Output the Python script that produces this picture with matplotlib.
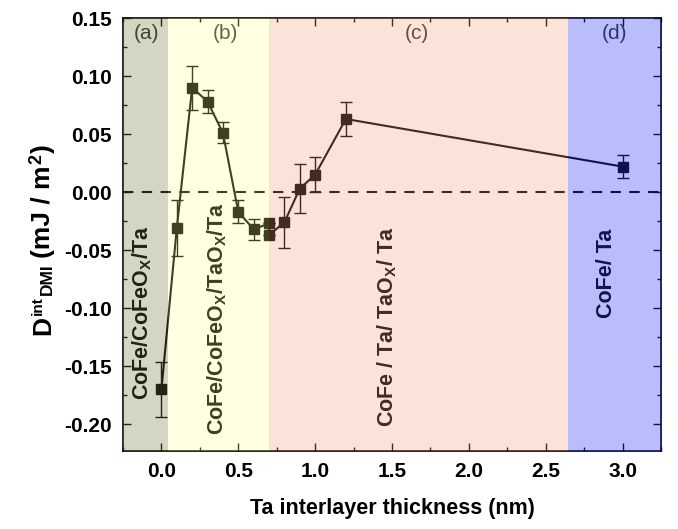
import matplotlib
matplotlib.use('Agg')
import matplotlib.pyplot as plt
from matplotlib.ticker import MultipleLocator
from matplotlib.transforms import IdentityTransform

plt.rcParams['font.family'] = 'Liberation Sans'
plt.rcParams['mathtext.fontset'] = 'custom'
plt.rcParams['mathtext.rm'] = 'Liberation Sans:bold'
plt.rcParams['mathtext.bf'] = 'Liberation Sans:bold'

# Ta interlayer thickness (nm) and interfacial DMI (mJ/m^2)
thickness = [0.0, 0.1, 0.2, 0.3, 0.4, 0.5, 0.6, 0.7, 0.7, 0.8, 0.9, 1.0, 1.2, 3.0]
dmi = [-0.170, -0.031, 0.090, 0.078, 0.051, -0.017, -0.032, -0.027, -0.037,
       -0.026, 0.003, 0.015, 0.063, 0.022]
dmi_err = [0.024, 0.024, 0.019, 0.010, 0.009, 0.010, 0.009, 0.0, 0.0,
           0.022, 0.021, 0.015, 0.015, 0.010]

# shaded regions
region_edges = [(-0.25, 0.045), (0.045, 0.70), (0.70, 2.645), (2.645, 3.25)]
region_colors = ['#75753a', '#ffff8a', '#f59d7a', '#2d3cf0']
region_alpha = [0.30, 0.25, 0.28, 0.33]
region_tags = ['(a)', '(b)', '(c)', '(d)']
tag_x = [-0.096, 0.414, 1.66, 2.95]
stack_labels = [r'CoFe/CoFeO$_{\bf X}$/Ta',
                r'CoFe/CoFeO$_{\bf X}$/TaO$_{\bf X}$/Ta',
                r'CoFe / Ta/ TaO$_{\bf X}$/ Ta',
                r'CoFe/ Ta']
stack_x = [-0.122, 0.361, 1.472, 2.897]
stack_y = [-0.1036, -0.1088, -0.116, -0.0696]

W, H = 678, 529
fig = plt.figure(figsize=(W / 100, H / 100), dpi=100)
ax = fig.add_axes([123 / W, 1 - 451 / H, 538 / W, 433 / H])

ax.axhline(0, color='black', ls=(0, (5, 4)), lw=1.5, zorder=2)
ax.errorbar(thickness, dmi, yerr=dmi_err, color='black', marker='s', ms=7.5,
            lw=1.5, elinewidth=1, capsize=4, capthick=1, zorder=3)

for i in range(4):
    ax.text(tag_x[i], 0.1365, region_tags[i], fontsize=15, color='#303030',
            ha='center', va='center', zorder=3)
    ax.text(stack_x[i], stack_y[i], stack_labels[i], fontsize=15.5,
            fontweight='bold', rotation=90, ha='center', va='center', zorder=3)
    ax.axvspan(region_edges[i][0], region_edges[i][1], color=region_colors[i],
               alpha=region_alpha[i], lw=0, zorder=10)

ax.set_xlim(-0.25, 3.25)
ax.set_ylim(-0.223, 0.15)
ax.xaxis.set_major_locator(MultipleLocator(0.5))
ax.xaxis.set_minor_locator(MultipleLocator(0.25))
ax.yaxis.set_major_locator(MultipleLocator(0.05))
ax.yaxis.set_minor_locator(MultipleLocator(0.025))
ax.tick_params(which='both', direction='in', top=True, right=True, width=1)
ax.tick_params(which='major', length=6, labelsize=15, pad=8)
ax.tick_params(which='minor', length=3)
ax.xaxis.set_major_formatter(plt.FuncFormatter(lambda v, p: f'{v:.1f}'))
ax.yaxis.set_major_formatter(plt.FuncFormatter(lambda v, p: f'{v:.2f}'))
for lab in ax.get_xticklabels() + ax.get_yticklabels():
    lab.set_fontweight('bold')
for s in ax.spines.values():
    s.set_linewidth(1.2)

ax.set_xlabel('Ta interlayer thickness (nm)', fontsize=15.5, fontweight='bold', labelpad=12)

# y label built from pieces so the sub/superscripts keep their large size
renderer = fig.canvas.get_renderer()


def ylabel_piece(text, xb, y, size):
    t = fig.text(xb, y, text, transform=IdentityTransform(), rotation=90,
                 rotation_mode='anchor', ha='left', va='baseline',
                 fontsize=size, fontweight='bold')
    return t.get_window_extent(renderer).height


y = H - 335
y += ylabel_piece('D', 50, y, 19) + 1
len_sup = ylabel_piece('int', 42, y, 11)
len_sub = ylabel_piece('DMI', 52, y + len_sup + 1, 12.5)
y = y + len_sup + 1 + len_sub + 6
y += ylabel_piece('(mJ / m', 50, y, 19) + 1
y += ylabel_piece('2', 41, y, 13) + 1
ylabel_piece(')', 50, y, 19)

fig.savefig('out.png', dpi=100)
